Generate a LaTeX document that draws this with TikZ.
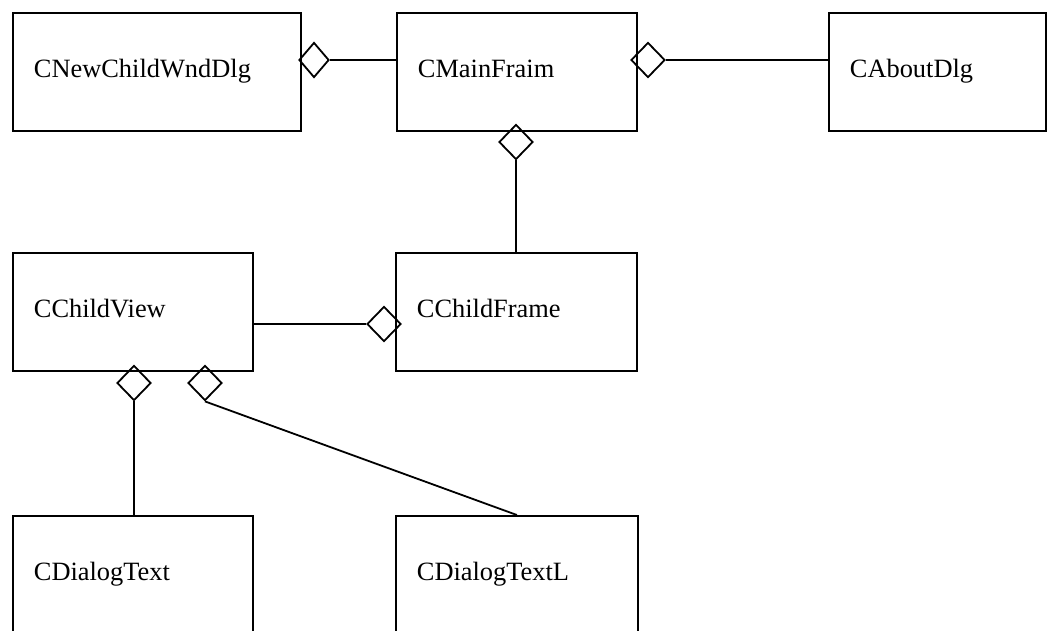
\documentclass[tikz,border=0pt]{standalone}
\usepackage{fontspec}
\setmainfont{Liberation Serif}
\usetikzlibrary{shapes.geometric}

\begin{document}
\begin{tikzpicture}[
            x=1pt, y=-1pt,
            line width=1.8pt,
            every node/.style={font=\fontsize{26.4}{30}\selectfont},
            classbox/.style={rectangle,draw,fill=white,anchor=north west,
                inner xsep=21pt,inner ysep=0pt,align=left,
                minimum height=118pt,text height=20pt,text depth=8pt},
            aggr/.style={diamond,draw,inner sep=0pt,minimum width=34pt,minimum height=35pt}
        ]
            \useasboundingbox (0,0) rectangle (1056,630);
            \clip (0,0) rectangle (1056,630);
            \node[classbox,text width=246pt] (dlg) at (12,12) {CNewChildWndDlg};
            \node[classbox,text width=198pt] (mainfr) at (396,12) {CMainFraim};
            \node[classbox,text width=175pt] (about) at (828,12) {CAboutDlg};
            \node[classbox,text width=198pt] (view) at (12,252) {CChildView};
            \node[classbox,text width=199pt] (childfr) at (395,252) {CChildFrame};
            \node[classbox,text width=198pt] (dlgtext) at (12,515) {CDialogText};
            \node[classbox,text width=200pt] (dlgtextl) at (395,515) {CDialogTextL};

            \node[aggr,minimum width=30pt] (d1) at (314,60) {};
            \node[aggr] (d2) at (648,60) {};
            \node[aggr] (d3) at (516,142) {};
            \node[aggr] (d4) at (384,324) {};
            \node[aggr] (d5) at (134,383) {};
            \node[aggr] (d6) at (205,383) {};

            \draw (d1.east) -- (d1.east -| mainfr.west);
            \draw (d2.east) -- (d2.east -| about.west);
            \draw (d3.south) -- (d3.south |- childfr.north);
            \draw (view.east |- d4.west) -- (d4.west);
            \draw (d5.south) -- (d5.south |- dlgtext.north);
            \draw (d6.south) -- (dlgtextl.north);
        \end{tikzpicture}
\end{document}
